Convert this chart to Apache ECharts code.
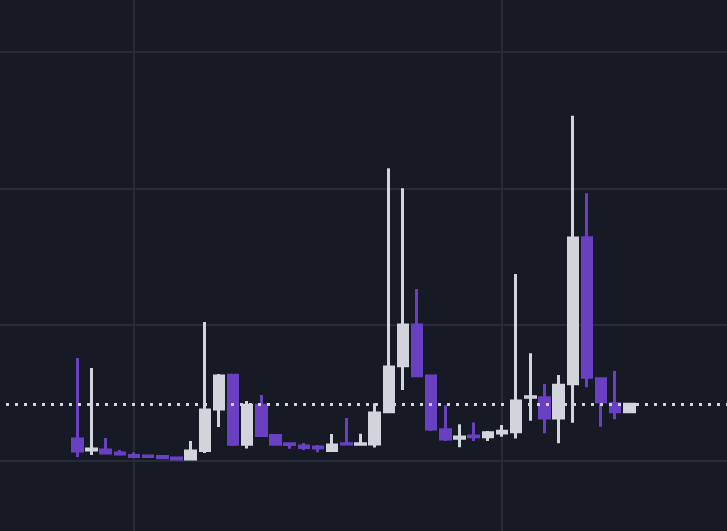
<!DOCTYPE html>
<html>
<head>
<meta charset="utf-8">
<style>
  html, body { margin: 0; padding: 0; background: #161a25; }
  #chart { width: 727px; height: 531px; }
</style>
<script src="https://cdn.jsdelivr.net/npm/echarts@6/dist/echarts.min.js"></script>
</head>
<body>
<div id="chart"></div>
<script>
// Period positions on the x value axis (split lines every 26 periods)
const periods = [22,23,24,25,26,27,28,29,30,31,32,33,34,35,36,37,38,39,40,41,
                 42,43,44,45,46,47,48,49,50,51,52,53,54,55,56,57,58,59,60,61];
const opens  = [16.1, 8.1, 8.1, 5.9, 4.0, 3.7, 3.2, 2.2, 1.5, 7.6,
                38.1, 62.9, 12.3, 40.9, 18.6, 12.7, 11.0, 10.3, 7.6, 12.7,
                12.3, 12.5, 36.2, 69.9, 99.8, 62.4, 23.0, 16.7, 18.3, 17.8,
                20.5, 21.5, 46.7, 46.4, 31.5, 56.7, 163.8, 60.4, 42.0, 36.2];
const closes = [7.3, 8.8, 5.9, 5.1, 3.2, 3.3, 2.4, 1.5, 7.3, 37.4,
                62.4, 12.3, 40.9, 18.6, 12.3, 12.0, 9.8, 9.5, 11.7, 12.5,
                12.7, 35.2, 69.0, 99.8, 62.6, 23.5, 16.1, 17.6, 17.8, 20.8,
                21.8, 44.0, 47.2, 31.5, 55.5, 163.6, 61.4, 43.5, 36.2, 41.6];
const lows   = [2.9, 4.4, 5.1, 4.4, 2.2, 2.2, 1.5, 0.7, 1.1, 5.9,
                24.9, 11.0, 9.2, 17.6, 12.0, 9.0, 8.1, 6.4, 6.6, 11.7,
                11.5, 9.9, 35.2, 52.1, 61.6, 22.0, 14.7, 10.1, 14.7, 14.7,
                17.8, 16.4, 29.6, 20.3, 13.0, 28.1, 54.1, 25.2, 30.6, 36.2];
const highs  = [75.6, 68.2, 16.9, 8.1, 6.2, 4.4, 4.4, 2.6, 14.7, 102.0,
                63.8, 63.5, 44.0, 48.4, 18.8, 13.2, 13.2, 11.7, 19.8, 31.5,
                20.0, 42.3, 214.7, 200.0, 126.2, 63.1, 40.9, 26.9, 28.2, 22.0,
                26.4, 137.2, 79.0, 56.5, 63.1, 253.3, 196.4, 61.1, 66.0, 41.6];

const upColor = '#d2d4dc';
const downColor = '#6a40c2';
const gridColor = '#272b37';

const candleData = periods.map((p, i) => [p, opens[i], closes[i], lows[i], highs[i]]);
const lastClose = closes[closes.length - 1];

const chart = echarts.init(document.getElementById('chart'), null, { renderer: 'canvas' });
chart.setOption({
  backgroundColor: '#161a25',
  animation: false,
  grid: { left: -234, right: -143, top: -84.3, bottom: -66.3, containLabel: false, outerBoundsMode: 'none' },
  xAxis: {
    type: 'value',
    min: 0, max: 78, interval: 26,
    axisLine: { show: false },
    axisTick: { show: false },
    axisLabel: { show: false },
    splitLine: { show: true, lineStyle: { color: gridColor, width: 2 } }
  },
  yAxis: {
    type: 'value',
    min: -100, max: 400, interval: 100,
    axisLine: { show: false },
    axisTick: { show: false },
    axisLabel: { show: false },
    splitLine: { show: true, lineStyle: { color: gridColor, width: 2 } }
  },
  series: [{
    type: 'candlestick',
    data: candleData,
    encode: { x: 0, y: [1, 2, 3, 4] },
    barWidth: 10,
    itemStyle: {
      color: upColor,
      color0: downColor,
      borderColor: upColor,
      borderColor0: downColor,
      borderWidth: 3
    },
    markLine: {
      silent: true,
      symbol: ['none', 'none'],
      label: { show: false },
      lineStyle: { color: upColor, type: [3, 6], dashOffset: 3, width: 3 },
      data: [{ yAxis: lastClose }]
    }
  }]
});
</script>
</body>
</html>
